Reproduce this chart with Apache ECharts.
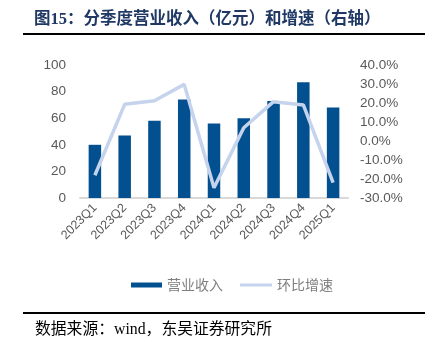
<!DOCTYPE html>
<html>
<head>
<meta charset="utf-8">
<script src="https://cdn.jsdelivr.net/npm/echarts@6/dist/echarts.min.js"></script>
<style>
html,body{margin:0;padding:0;background:#fff;}
#c{width:427px;height:346px;}
</style>
</head>
<body>
<div id="c"></div>
<script>
const categories = ['2023Q1','2023Q2','2023Q3','2023Q4','2024Q1','2024Q2','2024Q3','2024Q4','2025Q1'];
const revenue = [40, 47, 58, 74, 56, 60, 73, 87, 68];
const qoqGrowth = [-18, 19.3, 21.2, 29.8, -24.6, 7, 20.7, 19, -21.9];
const leftTicks = {min: 0, max: 100, interval: 20};
const rightTicks = {min: -30, max: 40, interval: 10};

const chart = echarts.init(document.getElementById('c'), null, {renderer: 'canvas'});
const serifCJK = "'Liberation Serif','Noto Sans CJK SC',serif";
const sans = "'Liberation Sans',Arial,sans-serif";
const legendText = {color: '#7F7F7F', fontSize: 14, fontFamily: "'Noto Sans CJK SC'", lineHeight: 14};
chart.setOption({
  animation: false,
  backgroundColor: '#fff',
  grid: {left: 80, right: 79, top: 65, bottom: 148, containLabel: false},
  graphic: [
    {type: 'text', left: 34, top: 11, style: {text: '图15：分季度营业收入（亿元）和增速（右轴）', font: "bold 16.5px " + serifCJK, fill: '#1F3864'}},
    {type: 'line', shape: {x1: 23, y1: 34, x2: 425, y2: 34}, style: {stroke: '#000', lineWidth: 2}},
    {type: 'line', shape: {x1: 23, y1: 313, x2: 425, y2: 313}, style: {stroke: '#000', lineWidth: 2}},
    {type: 'text', left: 35, top: 322, style: {text: '数据来源：wind，东吴证券研究所', font: "15.8px " + serifCJK, fill: '#000'}}
  ],
  legend: [
    {
      left: 126, top: 273, itemGap: 15, itemWidth: 31, itemHeight: 5,
      textStyle: legendText,
      data: [{name: '营业收入', icon: 'rect'}]
    },
    {
      left: 235, top: 273, itemGap: 15, itemWidth: 32, itemHeight: 3,
      textStyle: legendText,
      data: [{name: '环比增速', icon: 'rect'}]
    }
  ],
  xAxis: {
    type: 'category',
    data: categories,
    axisTick: {show: false},
    axisLine: {lineStyle: {color: '#D9D9D9', width: 2}},
    axisLabel: {rotate: 45, color: '#595959', fontSize: 12.5, fontFamily: sans, margin: 8, interval: 0}
  },
  yAxis: [
    {
      type: 'value', min: leftTicks.min, max: leftTicks.max, interval: leftTicks.interval,
      splitLine: {show: false}, axisLine: {show: false}, axisTick: {show: false},
      axisLabel: {color: '#595959', fontSize: 13.5, fontFamily: sans, margin: 14}
    },
    {
      type: 'value', min: rightTicks.min, max: rightTicks.max, interval: rightTicks.interval,
      splitLine: {show: false}, axisLine: {show: false}, axisTick: {show: false},
      axisLabel: {color: '#595959', fontSize: 13.5, fontFamily: sans, margin: 12,
        formatter: v => v.toFixed(1) + '%'}
    }
  ],
  series: [
    {
      name: '营业收入', type: 'bar', data: revenue, barWidth: '42%',
      itemStyle: {color: '#02508F'}
    },
    {
      name: '环比增速', type: 'line', yAxisIndex: 1, data: qoqGrowth,
      symbol: 'none', lineStyle: {color: '#C5D3EC', width: 3.5}, itemStyle: {color: '#C5D3EC'}, z: 3
    }
  ]
});
</script>
</body>
</html>
